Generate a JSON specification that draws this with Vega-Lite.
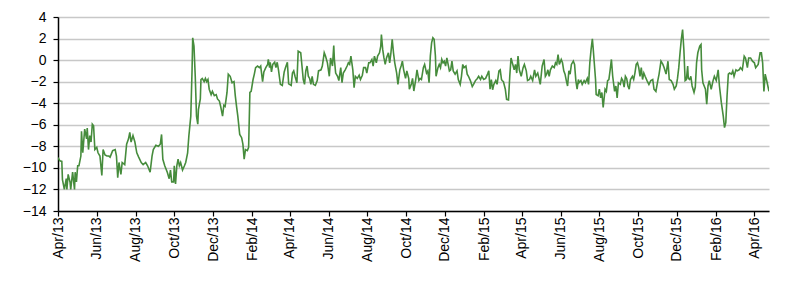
{
"$schema": "https://vega.github.io/schema/vega-lite/v6.json",
"width": 711, "height": 194,
"autosize": "none",
"padding": {"left": 58, "top": 17, "right": 31, "bottom": 82},
"background": "white",
"config": {"view": {"stroke": null}, "axis": {"labelFont": "Liberation Sans", "labelFontSize": 14, "labelColor": "#000", "domainColor": "#000", "tickColor": "#000", "domainWidth": 1.5, "tickWidth": 1.2}},
"data": {"values": [
{"date":"2013-04-01","value":-9.04},{"date":"2013-04-04","value":-9.35},{"date":"2013-04-07","value":-9.4},{"date":"2013-04-08","value":-11.1},{"date":"2013-04-11","value":-12.0},{"date":"2013-04-14","value":-11.0},{"date":"2013-04-15","value":-12.0},{"date":"2013-04-17","value":-10.6},{"date":"2013-04-20","value":-11.35},{"date":"2013-04-21","value":-12.0},{"date":"2013-04-24","value":-10.4},{"date":"2013-04-27","value":-12.0},{"date":"2013-04-28","value":-10.4},{"date":"2013-04-30","value":-11.3},
{"date":"2013-05-02","value":-9.8},{"date":"2013-05-04","value":-9.8},{"date":"2013-05-07","value":-8.9},{"date":"2013-05-08","value":-6.6},{"date":"2013-05-10","value":-8.6},{"date":"2013-05-13","value":-6.4},{"date":"2013-05-16","value":-7.3},{"date":"2013-05-17","value":-6.3},{"date":"2013-05-19","value":-8.3},{"date":"2013-05-21","value":-7.0},{"date":"2013-05-23","value":-7.6},{"date":"2013-05-25","value":-5.95},{"date":"2013-05-27","value":-6.1},{"date":"2013-05-29","value":-8.3},
{"date":"2013-06-01","value":-8.1},{"date":"2013-06-03","value":-8.6},{"date":"2013-06-06","value":-8.9},{"date":"2013-06-09","value":-10.7},{"date":"2013-06-11","value":-8.3},{"date":"2013-06-14","value":-8.8},{"date":"2013-06-17","value":-8.9},{"date":"2013-06-20","value":-8.9},{"date":"2013-06-22","value":-9.0},{"date":"2013-06-26","value":-8.4},{"date":"2013-06-30","value":-8.3},
{"date":"2013-07-02","value":-8.9},{"date":"2013-07-04","value":-10.9},{"date":"2013-07-06","value":-9.5},{"date":"2013-07-09","value":-10.6},{"date":"2013-07-11","value":-9.5},{"date":"2013-07-15","value":-9.7},{"date":"2013-07-18","value":-7.8},{"date":"2013-07-21","value":-7.3},{"date":"2013-07-23","value":-6.7},{"date":"2013-07-25","value":-7.6},{"date":"2013-07-28","value":-7.0},{"date":"2013-07-31","value":-7.6},
{"date":"2013-08-03","value":-8.6},{"date":"2013-08-06","value":-9.0},{"date":"2013-08-10","value":-9.5},{"date":"2013-08-13","value":-9.7},{"date":"2013-08-17","value":-9.5},{"date":"2013-08-20","value":-9.8},{"date":"2013-08-24","value":-10.4},{"date":"2013-08-27","value":-8.9},{"date":"2013-08-29","value":-8.3},
{"date":"2013-09-02","value":-7.9},{"date":"2013-09-06","value":-8.0},{"date":"2013-09-09","value":-7.8},{"date":"2013-09-11","value":-6.9},{"date":"2013-09-13","value":-9.2},{"date":"2013-09-16","value":-9.8},{"date":"2013-09-20","value":-10.4},{"date":"2013-09-23","value":-11.0},{"date":"2013-09-25","value":-10.2},{"date":"2013-09-27","value":-11.3},{"date":"2013-09-30","value":-11.3},
{"date":"2013-10-01","value":-9.8},{"date":"2013-10-03","value":-11.5},{"date":"2013-10-05","value":-9.8},{"date":"2013-10-07","value":-9.2},{"date":"2013-10-09","value":-9.8},{"date":"2013-10-11","value":-9.5},{"date":"2013-10-14","value":-10.2},{"date":"2013-10-17","value":-9.8},{"date":"2013-10-19","value":-9.5},{"date":"2013-10-22","value":-8.6},{"date":"2013-10-24","value":-7.0},{"date":"2013-10-27","value":-5.2},{"date":"2013-10-29","value":-0.9},{"date":"2013-10-30","value":2.07},
{"date":"2013-11-01","value":1.3},{"date":"2013-11-03","value":-1.5},{"date":"2013-11-05","value":-5.2},{"date":"2013-11-07","value":-5.95},{"date":"2013-11-08","value":-4.6},{"date":"2013-11-11","value":-3.6},{"date":"2013-11-12","value":-1.8},{"date":"2013-11-14","value":-1.7},{"date":"2013-11-17","value":-2.0},{"date":"2013-11-19","value":-1.7},{"date":"2013-11-21","value":-2.0},{"date":"2013-11-23","value":-1.8},{"date":"2013-11-25","value":-2.7},{"date":"2013-11-28","value":-3.2},{"date":"2013-11-30","value":-2.9},
{"date":"2013-12-03","value":-3.3},{"date":"2013-12-06","value":-3.2},{"date":"2013-12-08","value":-3.6},{"date":"2013-12-11","value":-3.8},{"date":"2013-12-13","value":-4.3},{"date":"2013-12-16","value":-5.2},{"date":"2013-12-18","value":-4.2},{"date":"2013-12-20","value":-4.3},{"date":"2013-12-23","value":-3.0},{"date":"2013-12-25","value":-1.3},{"date":"2013-12-28","value":-1.5},{"date":"2013-12-31","value":-2.1},
{"date":"2014-01-03","value":-2.0},{"date":"2014-01-05","value":-3.3},{"date":"2014-01-07","value":-4.3},{"date":"2014-01-09","value":-5.2},{"date":"2014-01-12","value":-6.9},{"date":"2014-01-15","value":-7.2},{"date":"2014-01-17","value":-7.8},{"date":"2014-01-19","value":-9.2},{"date":"2014-01-21","value":-8.3},{"date":"2014-01-24","value":-8.4},{"date":"2014-01-26","value":-8.1},{"date":"2014-01-28","value":-3.0},{"date":"2014-01-30","value":-2.9},
{"date":"2014-02-02","value":-1.8},{"date":"2014-02-04","value":-1.3},{"date":"2014-02-06","value":-0.7},{"date":"2014-02-09","value":-0.55},{"date":"2014-02-12","value":-0.7},{"date":"2014-02-14","value":-0.55},{"date":"2014-02-17","value":-2.0},{"date":"2014-02-19","value":-1.1},{"date":"2014-02-22","value":-0.7},{"date":"2014-02-25","value":-0.4},{"date":"2014-02-26","value":0.06},{"date":"2014-02-28","value":-0.7},
{"date":"2014-03-01","value":-0.2},{"date":"2014-03-03","value":-1.1},{"date":"2014-03-05","value":-0.4},{"date":"2014-03-08","value":-0.2},{"date":"2014-03-10","value":-0.7},{"date":"2014-03-12","value":-0.2},{"date":"2014-03-14","value":-0.9},{"date":"2014-03-17","value":-2.25},{"date":"2014-03-20","value":-2.35},{"date":"2014-03-23","value":-1.1},{"date":"2014-03-25","value":-0.7},{"date":"2014-03-28","value":-0.2},{"date":"2014-03-30","value":-2.2},
{"date":"2014-04-03","value":-2.35},{"date":"2014-04-05","value":-1.2},{"date":"2014-04-07","value":-1.0},{"date":"2014-04-09","value":-1.5},{"date":"2014-04-12","value":-2.1},{"date":"2014-04-14","value":0.83},{"date":"2014-04-18","value":0.68},{"date":"2014-04-20","value":-0.55},{"date":"2014-04-22","value":-1.8},{"date":"2014-04-24","value":-2.25},{"date":"2014-04-26","value":-1.0},{"date":"2014-04-28","value":-0.55},{"date":"2014-04-30","value":-1.5},
{"date":"2014-05-02","value":-1.7},{"date":"2014-05-04","value":-2.25},{"date":"2014-05-06","value":-1.5},{"date":"2014-05-08","value":-2.25},{"date":"2014-05-11","value":-2.35},{"date":"2014-05-14","value":-1.9},{"date":"2014-05-16","value":-1.0},{"date":"2014-05-20","value":-0.9},{"date":"2014-05-22","value":-0.55},{"date":"2014-05-25","value":0.68},{"date":"2014-05-27","value":0.37},{"date":"2014-05-30","value":-0.25},
{"date":"2014-06-02","value":-1.5},{"date":"2014-06-04","value":0.2},{"date":"2014-06-07","value":-0.55},{"date":"2014-06-09","value":1.36},{"date":"2014-06-10","value":0.06},{"date":"2014-06-12","value":-1.2},{"date":"2014-06-15","value":-1.5},{"date":"2014-06-17","value":-1.9},{"date":"2014-06-20","value":-0.7},{"date":"2014-06-22","value":-2.1},{"date":"2014-06-24","value":-1.2},{"date":"2014-06-27","value":-0.9},{"date":"2014-06-30","value":-0.55},
{"date":"2014-07-02","value":-0.25},{"date":"2014-07-04","value":-0.4},{"date":"2014-07-06","value":0.37},{"date":"2014-07-09","value":-0.9},{"date":"2014-07-11","value":-2.56},{"date":"2014-07-13","value":-1.5},{"date":"2014-07-16","value":-1.7},{"date":"2014-07-19","value":-1.4},{"date":"2014-07-21","value":-1.8},{"date":"2014-07-24","value":-1.4},{"date":"2014-07-26","value":-0.7},{"date":"2014-07-29","value":-0.7},{"date":"2014-07-31","value":-1.2},
{"date":"2014-08-03","value":-0.25},{"date":"2014-08-05","value":-0.25},{"date":"2014-08-08","value":0.06},{"date":"2014-08-10","value":-0.55},{"date":"2014-08-12","value":0.37},{"date":"2014-08-15","value":-0.25},{"date":"2014-08-17","value":0.37},{"date":"2014-08-20","value":0.68},{"date":"2014-08-22","value":1.3},{"date":"2014-08-23","value":2.38},{"date":"2014-08-25","value":0.99},{"date":"2014-08-27","value":0.2},{"date":"2014-08-29","value":-0.4},{"date":"2014-08-31","value":0.2},
{"date":"2014-09-03","value":0.68},{"date":"2014-09-05","value":-0.25},{"date":"2014-09-07","value":0.68},{"date":"2014-09-09","value":1.92},{"date":"2014-09-11","value":0.68},{"date":"2014-09-13","value":-0.25},{"date":"2014-09-16","value":-1.2},{"date":"2014-09-18","value":-2.25},{"date":"2014-09-21","value":-0.9},{"date":"2014-09-23","value":-0.55},{"date":"2014-09-25","value":-0.1},{"date":"2014-09-27","value":-0.9},{"date":"2014-09-30","value":-1.7},
{"date":"2014-10-02","value":-1.0},{"date":"2014-10-05","value":-1.7},{"date":"2014-10-06","value":-2.7},{"date":"2014-10-09","value":-2.25},{"date":"2014-10-11","value":-1.7},{"date":"2014-10-13","value":-2.87},{"date":"2014-10-16","value":-1.8},{"date":"2014-10-18","value":-0.9},{"date":"2014-10-21","value":-1.9},{"date":"2014-10-23","value":-1.7},{"date":"2014-10-25","value":-1.8},{"date":"2014-10-28","value":-0.7},{"date":"2014-10-30","value":-0.4},
{"date":"2014-11-02","value":-1.2},{"date":"2014-11-04","value":-1.0},{"date":"2014-11-06","value":-2.1},{"date":"2014-11-08","value":0.37},{"date":"2014-11-10","value":1.6},{"date":"2014-11-12","value":2.07},{"date":"2014-11-14","value":1.92},{"date":"2014-11-16","value":0.37},{"date":"2014-11-17","value":-1.5},{"date":"2014-11-20","value":-0.7},{"date":"2014-11-22","value":-0.4},{"date":"2014-11-24","value":-0.7},{"date":"2014-11-26","value":0.06},{"date":"2014-11-28","value":-0.25},{"date":"2014-11-30","value":-0.1},
{"date":"2014-12-02","value":-0.55},{"date":"2014-12-04","value":0.2},{"date":"2014-12-06","value":-0.4},{"date":"2014-12-08","value":-1.0},{"date":"2014-12-10","value":-0.9},{"date":"2014-12-12","value":-0.1},{"date":"2014-12-14","value":-1.0},{"date":"2014-12-17","value":-1.3},{"date":"2014-12-20","value":-1.0},{"date":"2014-12-22","value":-1.8},{"date":"2014-12-25","value":-2.25},{"date":"2014-12-27","value":-1.5},{"date":"2014-12-29","value":-0.4},{"date":"2014-12-31","value":-0.7},
{"date":"2015-01-03","value":-0.55},{"date":"2015-01-05","value":-1.3},{"date":"2015-01-07","value":-1.5},{"date":"2015-01-10","value":-1.9},{"date":"2015-01-13","value":-2.45},{"date":"2015-01-15","value":-2.25},{"date":"2015-01-18","value":-1.9},{"date":"2015-01-21","value":-1.7},{"date":"2015-01-23","value":-1.5},{"date":"2015-01-26","value":-1.8},{"date":"2015-01-28","value":-1.5},{"date":"2015-01-31","value":-1.8},
{"date":"2015-02-03","value":-1.7},{"date":"2015-02-06","value":-1.3},{"date":"2015-02-08","value":-1.0},{"date":"2015-02-10","value":-2.7},{"date":"2015-02-12","value":-1.8},{"date":"2015-02-14","value":-2.75},{"date":"2015-02-16","value":-2.25},{"date":"2015-02-19","value":-1.9},{"date":"2015-02-21","value":-2.25},{"date":"2015-02-24","value":-1.0},{"date":"2015-02-26","value":-0.9},{"date":"2015-02-28","value":-1.8},
{"date":"2015-03-01","value":-1.9},{"date":"2015-03-03","value":-2.0},{"date":"2015-03-06","value":-2.7},{"date":"2015-03-08","value":-3.64},{"date":"2015-03-11","value":-3.7},{"date":"2015-03-13","value":-1.5},{"date":"2015-03-15","value":0.2},{"date":"2015-03-17","value":-0.25},{"date":"2015-03-20","value":-0.9},{"date":"2015-03-22","value":-0.4},{"date":"2015-03-24","value":-1.2},{"date":"2015-03-26","value":0.37},{"date":"2015-03-28","value":-0.9},{"date":"2015-03-31","value":-1.5},
{"date":"2015-04-03","value":-0.7},{"date":"2015-04-05","value":-0.4},{"date":"2015-04-08","value":-1.0},{"date":"2015-04-10","value":-1.9},{"date":"2015-04-13","value":-1.8},{"date":"2015-04-15","value":-1.5},{"date":"2015-04-18","value":-1.9},{"date":"2015-04-21","value":-0.9},{"date":"2015-04-23","value":-1.5},{"date":"2015-04-26","value":-1.2},{"date":"2015-04-28","value":-1.7},{"date":"2015-04-30","value":-2.25},
{"date":"2015-05-03","value":-0.55},{"date":"2015-05-06","value":0.06},{"date":"2015-05-08","value":-1.5},{"date":"2015-05-10","value":-1.3},{"date":"2015-05-12","value":-0.9},{"date":"2015-05-14","value":-1.5},{"date":"2015-05-16","value":-0.9},{"date":"2015-05-19","value":-0.55},{"date":"2015-05-22","value":-0.7},{"date":"2015-05-24","value":-0.25},{"date":"2015-05-26","value":-0.4},{"date":"2015-05-28","value":0.5},{"date":"2015-05-30","value":-0.4},
{"date":"2015-06-02","value":0.06},{"date":"2015-06-04","value":-0.25},{"date":"2015-06-06","value":-1.0},{"date":"2015-06-08","value":-1.3},{"date":"2015-06-10","value":-1.9},{"date":"2015-06-12","value":-2.4},{"date":"2015-06-14","value":-1.0},{"date":"2015-06-16","value":-1.3},{"date":"2015-06-18","value":-0.4},{"date":"2015-06-21","value":-0.1},{"date":"2015-06-23","value":-0.4},{"date":"2015-06-25","value":-1.9},{"date":"2015-06-27","value":-2.7},{"date":"2015-06-29","value":-1.8},{"date":"2015-06-30","value":-2.1},
{"date":"2015-07-03","value":-1.9},{"date":"2015-07-05","value":-2.25},{"date":"2015-07-08","value":-1.9},{"date":"2015-07-10","value":-2.1},{"date":"2015-07-13","value":-1.7},{"date":"2015-07-15","value":-2.25},{"date":"2015-07-17","value":-0.25},{"date":"2015-07-19","value":0.99},{"date":"2015-07-21","value":1.98},{"date":"2015-07-22","value":1.3},{"date":"2015-07-24","value":-0.25},{"date":"2015-07-26","value":-1.8},{"date":"2015-07-27","value":-3.2},{"date":"2015-07-30","value":-3.3},
{"date":"2015-08-01","value":-2.7},{"date":"2015-08-03","value":-3.5},{"date":"2015-08-05","value":-3.0},{"date":"2015-08-07","value":-4.4},{"date":"2015-08-10","value":-2.7},{"date":"2015-08-12","value":-2.9},{"date":"2015-08-14","value":-1.9},{"date":"2015-08-16","value":-1.8},{"date":"2015-08-18","value":-0.9},{"date":"2015-08-20","value":0.06},{"date":"2015-08-22","value":-1.5},{"date":"2015-08-25","value":-2.9},{"date":"2015-08-27","value":-2.4},{"date":"2015-08-29","value":-3.5},{"date":"2015-08-31","value":-2.1},
{"date":"2015-09-03","value":-2.25},{"date":"2015-09-05","value":-1.7},{"date":"2015-09-07","value":-1.9},{"date":"2015-09-09","value":-2.5},{"date":"2015-09-11","value":-1.5},{"date":"2015-09-13","value":-1.7},{"date":"2015-09-15","value":-2.4},{"date":"2015-09-17","value":-2.7},{"date":"2015-09-19","value":-1.8},{"date":"2015-09-22","value":-1.5},{"date":"2015-09-24","value":-1.8},{"date":"2015-09-26","value":-1.2},{"date":"2015-09-28","value":-0.4},{"date":"2015-09-30","value":-0.25},
{"date":"2015-10-02","value":-0.7},{"date":"2015-10-04","value":-1.5},{"date":"2015-10-06","value":-0.7},{"date":"2015-10-08","value":-1.8},{"date":"2015-10-10","value":-1.2},{"date":"2015-10-12","value":-1.5},{"date":"2015-10-15","value":-1.9},{"date":"2015-10-18","value":-2.25},{"date":"2015-10-21","value":-1.9},{"date":"2015-10-24","value":-1.8},{"date":"2015-10-26","value":-2.7},{"date":"2015-10-29","value":-2.9},
{"date":"2015-11-01","value":-1.9},{"date":"2015-11-03","value":-1.3},{"date":"2015-11-06","value":-0.1},{"date":"2015-11-09","value":-0.4},{"date":"2015-11-11","value":-0.7},{"date":"2015-11-14","value":-1.3},{"date":"2015-11-17","value":-0.1},{"date":"2015-11-19","value":-1.8},{"date":"2015-11-22","value":-1.9},{"date":"2015-11-25","value":-2.25},{"date":"2015-11-27","value":-2.7},{"date":"2015-11-30","value":-2.4},
{"date":"2015-12-02","value":-1.7},{"date":"2015-12-04","value":-0.7},{"date":"2015-12-06","value":0.68},{"date":"2015-12-08","value":1.92},{"date":"2015-12-10","value":2.84},{"date":"2015-12-12","value":0.99},{"date":"2015-12-14","value":-1.9},{"date":"2015-12-16","value":-1.8},{"date":"2015-12-18","value":-0.55},{"date":"2015-12-19","value":-1.7},{"date":"2015-12-21","value":-1.8},{"date":"2015-12-23","value":-1.5},{"date":"2015-12-25","value":-2.4},{"date":"2015-12-28","value":-3.0},{"date":"2015-12-30","value":-2.5},
{"date":"2016-01-01","value":-0.25},{"date":"2016-01-03","value":0.68},{"date":"2016-01-06","value":1.3},{"date":"2016-01-08","value":1.45},{"date":"2016-01-09","value":-0.9},{"date":"2016-01-11","value":-2.1},{"date":"2016-01-13","value":-2.4},{"date":"2016-01-15","value":-2.7},{"date":"2016-01-17","value":-4.1},{"date":"2016-01-19","value":-2.4},{"date":"2016-01-21","value":-1.9},{"date":"2016-01-24","value":-2.7},{"date":"2016-01-27","value":-1.9},{"date":"2016-01-29","value":-1.5},
{"date":"2016-02-01","value":-1.9},{"date":"2016-02-04","value":-0.9},{"date":"2016-02-06","value":-2.4},{"date":"2016-02-09","value":-3.95},{"date":"2016-02-12","value":-5.2},{"date":"2016-02-14","value":-6.26},{"date":"2016-02-16","value":-5.8},{"date":"2016-02-18","value":-3.3},{"date":"2016-02-20","value":-1.3},{"date":"2016-02-22","value":-1.2},{"date":"2016-02-25","value":-1.3},{"date":"2016-02-27","value":-1.0},{"date":"2016-02-29","value":-1.5},
{"date":"2016-03-03","value":-0.9},{"date":"2016-03-05","value":-1.0},{"date":"2016-03-08","value":-0.9},{"date":"2016-03-10","value":-0.7},{"date":"2016-03-13","value":-0.9},{"date":"2016-03-16","value":0.37},{"date":"2016-03-18","value":0.2},{"date":"2016-03-20","value":-0.4},{"date":"2016-03-21","value":-0.7},{"date":"2016-03-23","value":0.2},{"date":"2016-03-26","value":0.2},{"date":"2016-03-29","value":-0.1},
{"date":"2016-04-01","value":-0.25},{"date":"2016-04-03","value":-0.7},{"date":"2016-04-07","value":-0.4},{"date":"2016-04-10","value":0.68},{"date":"2016-04-12","value":0.68},{"date":"2016-04-14","value":-0.25},{"date":"2016-04-16","value":-2.9},{"date":"2016-04-18","value":-1.3},{"date":"2016-04-20","value":-1.8},{"date":"2016-04-24","value":-2.9}
]},
"mark": {"type": "line", "color": "#468C3C", "strokeWidth": 1.6, "clip": true},
"encoding": {
"x": {"field": "date", "type": "temporal",
 "scale": {"type": "utc", "nice": false, "domain": [{"year": 2013, "month": 4, "date": 1, "utc": true}, {"year": 2016, "month": 4, "date": 24, "utc": true}]},
 "axis": {"title": null, "grid": false, "format": "%b/%y", "labelAngle": -90, "labelAlign": "right", "labelBaseline": "middle", "tickSize": 5, "labelPadding": 1, "labelOverlap": false, "labelFlush": false,
  "values": [{"year": 2013, "month": 4, "date": 1, "utc": true}, {"year": 2013, "month": 6, "date": 1, "utc": true}, {"year": 2013, "month": 8, "date": 1, "utc": true}, {"year": 2013, "month": 10, "date": 1, "utc": true}, {"year": 2013, "month": 12, "date": 1, "utc": true}, {"year": 2014, "month": 2, "date": 1, "utc": true}, {"year": 2014, "month": 4, "date": 1, "utc": true}, {"year": 2014, "month": 6, "date": 1, "utc": true}, {"year": 2014, "month": 8, "date": 1, "utc": true}, {"year": 2014, "month": 10, "date": 1, "utc": true}, {"year": 2014, "month": 12, "date": 1, "utc": true}, {"year": 2015, "month": 2, "date": 1, "utc": true}, {"year": 2015, "month": 4, "date": 1, "utc": true}, {"year": 2015, "month": 6, "date": 1, "utc": true}, {"year": 2015, "month": 8, "date": 1, "utc": true}, {"year": 2015, "month": 10, "date": 1, "utc": true}, {"year": 2015, "month": 12, "date": 1, "utc": true}, {"year": 2016, "month": 2, "date": 1, "utc": true}, {"year": 2016, "month": 4, "date": 1, "utc": true}]}},
"y": {"field": "value", "type": "quantitative",
 "scale": {"domain": [-14, 4], "nice": false, "zero": false},
 "axis": {"title": null, "values": [-14, -12, -10, -8, -6, -4, -2, 0, 2, 4], "grid": true, "gridColor": "#c8c8c8", "gridWidth": 1.6, "tickSize": 5, "labelPadding": 7}}
}
}
